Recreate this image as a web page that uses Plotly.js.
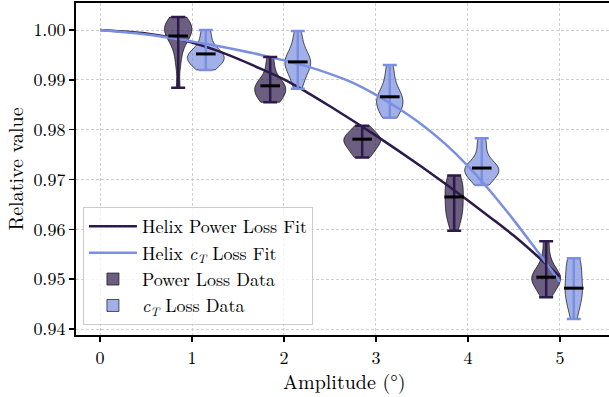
<!DOCTYPE html>
<html><head><meta charset="utf-8">
<script src="https://cdn.plot.ly/plotly-3.0.1.min.js"></script>
<style>html,body{margin:0;padding:0;background:#fff}#chart{width:609px;height:397px}</style>
</head><body><div id="chart"></div>
<script>
// Fit curves
const fitX = [0, 0.5, 0.8, 1.0, 1.25, 1.5, 1.75, 2.0, 2.25, 2.5, 2.75, 3.0, 3.25, 3.5, 3.75, 4.0, 4.25, 4.5, 4.75, 5.0];
const powerFitY = [1.0000, 0.9993, 0.9984, 0.9975, 0.9960, 0.9942, 0.9922, 0.9901, 0.9875, 0.9847, 0.9818, 0.9788, 0.9757, 0.9725, 0.9692, 0.9658, 0.9623, 0.9587, 0.9547, 0.9505];
const ctFitY = [1.0000, 0.9991, 0.9983, 0.9977, 0.9969, 0.9960, 0.9950, 0.9939, 0.9927, 0.9912, 0.9894, 0.9870, 0.9842, 0.9810, 0.9772, 0.9727, 0.9675, 0.9618, 0.9557, 0.9495];

// Violin positions
const powerPos = [0.85, 1.85, 2.85, 3.85, 4.85];
const ctPos = [1.15, 2.15, 3.15, 4.15, 5.15];

// Sample data per amplitude
const powerA1 = [1.0026, 1.0020, 1.0014, 1.0010, 1.0006, 1.0002, 0.9998, 0.9992, 0.9988, 0.9982, 0.9972, 0.9955, 0.9930, 0.9884];
const powerA2 = [0.9946, 0.9925, 0.9905, 0.9895, 0.9890, 0.9887, 0.9883, 0.9878, 0.9872, 0.9865, 0.9858, 0.9855];
const powerA3 = [0.9808, 0.9798, 0.9790, 0.9784, 0.9781, 0.9778, 0.9774, 0.9768, 0.9760, 0.9752, 0.9744];
const powerA4 = [0.9708, 0.9700, 0.9692, 0.9686, 0.9675, 0.9665, 0.9655, 0.9642, 0.9635, 0.9628, 0.9618, 0.9597];
const powerA5 = [0.9576, 0.9545, 0.9525, 0.9515, 0.9508, 0.9504, 0.9500, 0.9495, 0.9488, 0.9478, 0.9464];

const ctA1 = [1.0000, 0.9985, 0.9968, 0.9958, 0.9953, 0.9950, 0.9946, 0.9942, 0.9938, 0.9933, 0.9927, 0.9920];
const ctA2 = [0.9998, 0.9978, 0.9960, 0.9948, 0.9942, 0.9938, 0.9934, 0.9928, 0.9921, 0.9912, 0.9898, 0.9882];
const ctA3 = [0.9930, 0.9912, 0.9893, 0.9878, 0.9870, 0.9866, 0.9862, 0.9857, 0.9851, 0.9845, 0.9838, 0.9830, 0.9824];
const ctA4 = [0.9783, 0.9762, 0.9740, 0.9730, 0.9725, 0.9722, 0.9718, 0.9713, 0.9707, 0.9700, 0.9689];
const ctA5 = [0.9542, 0.9538, 0.9532, 0.9525, 0.9510, 0.9495, 0.9484, 0.9480, 0.9472, 0.9465, 0.9455, 0.9440, 0.9420];

// Central (black) markers
const powerMid = [0.9988, 0.9888, 0.9781, 0.9665, 0.9504];
const ctMid = [0.9952, 0.9936, 0.9866, 0.9723, 0.9482];

const powerSamples = [powerA1, powerA2, powerA3, powerA4, powerA5];
const ctSamples = [ctA1, ctA2, ctA3, ctA4, ctA5];

const xTitle = 'Amplitude (°)';
const yTitle = 'Relative value';

const darkCol = '#2c1a4b';
const lightCol = '#7b8fe0';
const font = 'Latin Modern Roman';

function flatten(pos, samples) {
  const x = [], y = [];
  samples.forEach((s, i) => s.forEach(v => { x.push(pos[i]); y.push(v); }));
  return {x, y};
}
function extremes(samples) {
  return {max: samples.map(s => Math.max(...s)), min: samples.map(s => Math.min(...s))};
}

const pf = flatten(powerPos, powerSamples);
const cf = flatten(ctPos, ctSamples);
const pe = extremes(powerSamples);
const ce = extremes(ctSamples);

function violin(d, fill, name, rank) {
  return {
    type: 'violin', x: d.x, y: d.y, name: name, legendrank: rank,
    fillcolor: fill, line: {color: 'rgba(0,0,0,0.65)', width: 1},
    points: false, box: {visible: false}, meanline: {visible: false},
    spanmode: 'hard', width: 0.4, scalemode: 'width', hoverinfo: 'skip',
    orientation: 'v'
  };
}
function whisk(pos, mid, ext, col) {
  return {
    type: 'scatter', mode: 'markers', x: pos, y: mid, showlegend: false, hoverinfo: 'skip',
    marker: {symbol: 'line-ew', size: 14, line: {color: '#000', width: 3}},
    error_y: {type: 'data', symmetric: false,
      array: ext.max.map((v, i) => v - mid[i]),
      arrayminus: ext.min.map((v, i) => mid[i] - v),
      color: col, thickness: 2.5, width: 7}
  };
}

const data = [
  violin(pf, 'rgba(44,26,75,0.7)', 'Power Loss Data', 3),
  violin(cf, 'rgba(123,143,224,0.7)', '<i>c<sub>T</sub></i> Loss Data', 4),
  {type: 'scatter', mode: 'lines', x: fitX, y: powerFitY, name: 'Helix Power Loss Fit', legendrank: 1,
   line: {color: darkCol, width: 2.5, shape: 'spline'}, hoverinfo: 'skip'},
  {type: 'scatter', mode: 'lines', x: fitX, y: ctFitY, name: 'Helix <i>c<sub>T</sub></i> Loss Fit', legendrank: 2,
   line: {color: lightCol, width: 2.5, shape: 'spline'}, hoverinfo: 'skip'},
  whisk(powerPos, powerMid, pe, darkCol),
  whisk(ctPos, ctMid, ce, lightCol)
];

const layout = {
  width: 609, height: 397,
  margin: {l: 76, r: 0, t: 3, b: 62},
  paper_bgcolor: '#fff', plot_bgcolor: '#fff',
  font: {family: font, size: 18, color: '#000'},
  violinmode: 'overlay', violingap: 0, violingroupgap: 0,
  showlegend: true,
  xaxis: {
    range: [-0.261, 5.533], tickvals: [0, 1, 2, 3, 4, 5], ticktext: ['0', '1', '2', '3', '4', '5'],
    showline: true, linecolor: '#000', linewidth: 2, mirror: true,
    ticks: 'outside', ticklen: 5, tickwidth: 1.5, tickcolor: '#000',
    showgrid: true, gridcolor: '#c4c4c4', gridwidth: 0.8, griddash: '3px,2px',
    zeroline: false, tickfont: {family: font, size: 18}
  },
  yaxis: {
    range: [0.9388, 1.00542], tickvals: [0.94, 0.95, 0.96, 0.97, 0.98, 0.99, 1.00],
    ticktext: ['0.94', '0.95', '0.96', '0.97', '0.98', '0.99', '1.00'],
    showline: true, linecolor: '#000', linewidth: 2, mirror: false,
    ticks: 'outside', ticklen: 5, tickwidth: 1.5, tickcolor: '#000',
    showgrid: true, gridcolor: '#c4c4c4', gridwidth: 0.8, griddash: '3px,2px',
    zeroline: false, tickfont: {family: font, size: 18},
    title: {text: yTitle, font: {family: font, size: 20}, standoff: 6}
  },
  annotations: [{
    text: xTitle, xref: 'paper', yref: 'paper', x: 0.503, y: -0.138,
    xanchor: 'center', yanchor: 'middle', showarrow: false,
    font: {family: font, size: 20, color: '#000'}
  }],
  legend: {
    x: 0.013, y: 0.03, xanchor: 'left', yanchor: 'bottom',
    bgcolor: 'rgba(255,255,255,0.8)', bordercolor: '#cccccc', borderwidth: 1,
    font: {family: font, size: 18}, traceorder: 'normal', tracegroupgap: 0,
    itemwidth: 48
  }
};

Plotly.newPlot('chart', data, layout, {staticPlot: true, displayModeBar: false});
</script></body></html>
